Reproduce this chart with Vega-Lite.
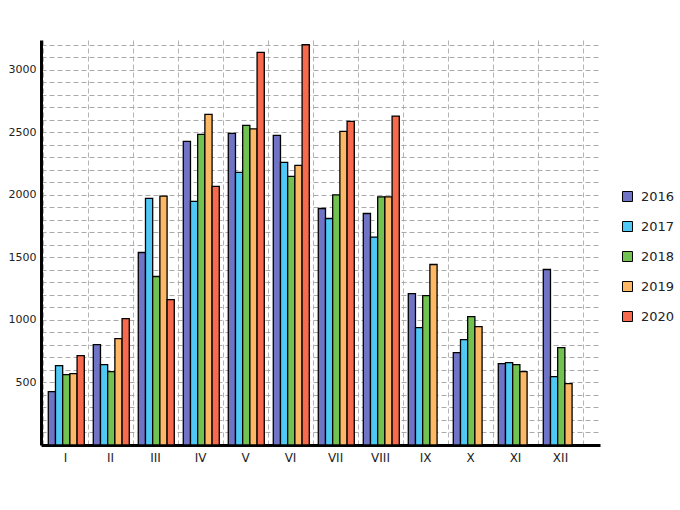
{
  "$schema": "https://vega.github.io/schema/vega-lite/v6.json",
  "width": 559,
  "height": 405,
  "autosize": {"type": "none"},
  "padding": {"left": 41, "top": 40, "right": 80, "bottom": 65},
  "background": "white",
  "config": {
    "view": {"stroke": null},
    "font": "DejaVu Sans",
    "axis": {"labelFont": "DejaVu Sans", "labelColor": "#222"},
    "legend": {"labelFont": "DejaVu Sans"}
  },
  "data": {
    "values": [
      {"month": "I", "year": "2016", "value": 427},
      {"month": "I", "year": "2017", "value": 635},
      {"month": "I", "year": "2018", "value": 563},
      {"month": "I", "year": "2019", "value": 571},
      {"month": "I", "year": "2020", "value": 715},
      {"month": "II", "year": "2016", "value": 803},
      {"month": "II", "year": "2017", "value": 643},
      {"month": "II", "year": "2018", "value": 587},
      {"month": "II", "year": "2019", "value": 851},
      {"month": "II", "year": "2020", "value": 1011},
      {"month": "III", "year": "2016", "value": 1539},
      {"month": "III", "year": "2017", "value": 1971},
      {"month": "III", "year": "2018", "value": 1347},
      {"month": "III", "year": "2019", "value": 1990},
      {"month": "III", "year": "2020", "value": 1163},
      {"month": "IV", "year": "2016", "value": 2427},
      {"month": "IV", "year": "2017", "value": 1947},
      {"month": "IV", "year": "2018", "value": 2483},
      {"month": "IV", "year": "2019", "value": 2643},
      {"month": "IV", "year": "2020", "value": 2067},
      {"month": "V", "year": "2016", "value": 2491},
      {"month": "V", "year": "2017", "value": 2179},
      {"month": "V", "year": "2018", "value": 2555},
      {"month": "V", "year": "2019", "value": 2528},
      {"month": "V", "year": "2020", "value": 3139},
      {"month": "VI", "year": "2016", "value": 2475},
      {"month": "VI", "year": "2017", "value": 2259},
      {"month": "VI", "year": "2018", "value": 2147},
      {"month": "VI", "year": "2019", "value": 2235},
      {"month": "VI", "year": "2020", "value": 3200},
      {"month": "VII", "year": "2016", "value": 1891},
      {"month": "VII", "year": "2017", "value": 1811},
      {"month": "VII", "year": "2018", "value": 2000},
      {"month": "VII", "year": "2019", "value": 2507},
      {"month": "VII", "year": "2020", "value": 2587},
      {"month": "VIII", "year": "2016", "value": 1851},
      {"month": "VIII", "year": "2017", "value": 1662},
      {"month": "VIII", "year": "2018", "value": 1984},
      {"month": "VIII", "year": "2019", "value": 1984},
      {"month": "VIII", "year": "2020", "value": 2630},
      {"month": "IX", "year": "2016", "value": 1211},
      {"month": "IX", "year": "2017", "value": 939},
      {"month": "IX", "year": "2018", "value": 1195},
      {"month": "IX", "year": "2019", "value": 1443},
      {"month": "X", "year": "2016", "value": 739},
      {"month": "X", "year": "2017", "value": 843},
      {"month": "X", "year": "2018", "value": 1027},
      {"month": "X", "year": "2019", "value": 947},
      {"month": "XI", "year": "2016", "value": 651},
      {"month": "XI", "year": "2017", "value": 659},
      {"month": "XI", "year": "2018", "value": 643},
      {"month": "XI", "year": "2019", "value": 587},
      {"month": "XII", "year": "2016", "value": 1403},
      {"month": "XII", "year": "2017", "value": 547},
      {"month": "XII", "year": "2018", "value": 779},
      {"month": "XII", "year": "2019", "value": 491}
    ]
  },
  "mark": {"type": "bar", "stroke": "black", "strokeWidth": 1.3},
  "encoding": {
    "x": {
      "field": "month",
      "type": "ordinal",
      "sort": ["I","II","III","IV","V","VI","VII","VIII","IX","X","XI","XII"],
      "scale": {"paddingInner": 0, "paddingOuter": 0.211, "align": 0.08},
      "axis": {
        "title": null,
        "labelAngle": 0,
        "labelAlign": "center",
        "labelFontSize": 12,
        "labelPadding": 7,
        "ticks": false,
        "tickBand": "extent",
        "grid": true,
        "gridColor": "#b4b4b4",
        "gridDash": [5, 3],
        "gridWidth": 1,
        "domainColor": "black",
        "domainWidth": 3
      }
    },
    "xOffset": {
      "field": "year",
      "type": "nominal",
      "scale": {"paddingInner": 0, "paddingOuter": 0.625, "align": 0.64}
    },
    "y": {
      "field": "value",
      "type": "quantitative",
      "scale": {"domain": [0, 3238], "nice": false},
      "axis": {
        "title": null,
        "values": [100,200,300,400,500,600,700,800,900,1000,1100,1200,1300,1400,1500,1600,1700,1800,1900,2000,2100,2200,2300,2400,2500,2600,2700,2800,2900,3000,3100,3200],
        "labelExpr": "datum.value % 500 === 0 ? datum.label : ''",
        "format": "d",
        "labelOverlap": false,
        "labelFontSize": 11,
        "labelPadding": 5,
        "ticks": false,
        "grid": true,
        "gridColor": "#aaaaaa",
        "gridDash": [5, 3],
        "gridWidth": 1,
        "domainColor": "black",
        "domainWidth": 3
      }
    },
    "color": {
      "field": "year",
      "type": "nominal",
      "scale": {
        "domain": ["2016", "2017", "2018", "2019", "2020"],
        "range": ["#6f74c6", "#4fc8f5", "#72c251", "#fdb865", "#f86a4d"]
      },
      "legend": {
        "title": null,
        "orient": "none",
        "legendX": 580,
        "legendY": 150,
        "symbolType": "square",
        "symbolSize": 100,
        "symbolStrokeColor": "black",
        "symbolStrokeWidth": 1,
        "symbolOpacity": 1,
        "labelFontSize": 13,
        "labelColor": "#222",
        "labelOffset": 7,
        "rowPadding": 15
      }
    }
  }
}
